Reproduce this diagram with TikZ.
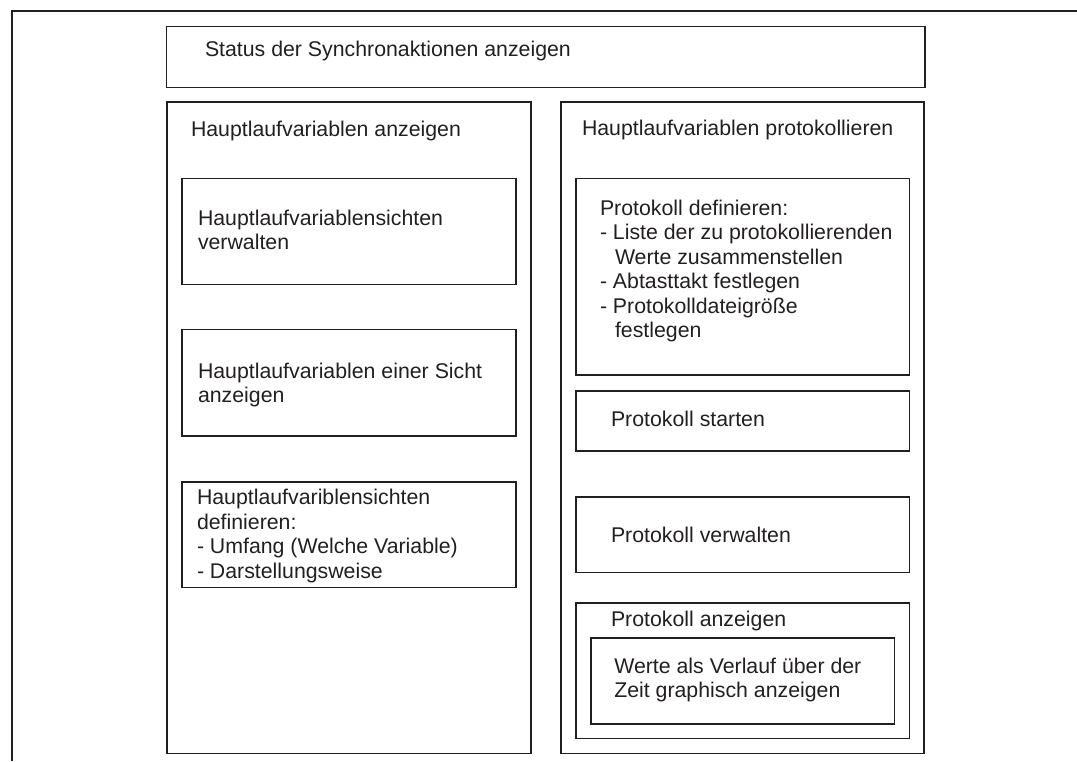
\documentclass[tikz,border=0pt]{standalone}
\usepackage{fontspec}
\setmainfont{Liberation Sans}
\definecolor{ink}{HTML}{231F20}
\begin{document}
\begin{tikzpicture}[x=1pt,y=-1pt,
  box/.style={draw=ink, line width=1.6pt, anchor=north west, inner sep=0pt, outer sep=0pt},
  txt/.style={anchor=north west, inner sep=0pt, outer sep=0pt, text=ink, align=left,
    font=\fontsize{21.3}{24.5}\selectfont},
]
\useasboundingbox (0,0) rectangle (1077,761);
% outer frame (top and left edges)
\coordinate (fTR) at (1077,10.5);
\coordinate (fTL) at (11.5,10.5);
\coordinate (fBL) at (11.5,761);
\draw[ink, line width=2pt] (fTR) -- (fTL) -- (fBL);

% boxes
\node[box, minimum width=758.5pt, minimum height=61pt] (top) at (166.5,26.5) {};
\node[box, minimum width=364pt, minimum height=651.5pt] (lcol) at (166.7,102) {};
\node[box, minimum width=334pt, minimum height=106pt] (l1) at (181.7,178.3) {};
\node[box, minimum width=334pt, minimum height=106.7pt] (l2) at (181.7,329.3) {};
\node[box, minimum width=334pt, minimum height=105.8pt] (l3) at (181.7,481.7) {};
\node[box, minimum width=363.3pt, minimum height=651.3pt] (rcol) at (560.7,102) {};
\node[box, minimum width=333.3pt, minimum height=196.7pt] (r1) at (576,178.3) {};
\node[box, minimum width=333.3pt, minimum height=60pt] (r2) at (576,390.7) {};
\node[box, minimum width=333.3pt, minimum height=75.6pt] (r3) at (576,496.7) {};
\node[box, minimum width=333.3pt, minimum height=135.6pt] (r4) at (576,602.7) {};
\node[box, minimum width=303.6pt, minimum height=86.3pt] (r4in) at (590.7,637.7) {};

% texts (top = first baseline - 15.3)
\node[txt] (ttop) at (205,41.3) {Status der Synchronaktionen anzeigen};
\node[txt] (tlcol) at (191,121.3) {Hauptlaufvariablen anzeigen};
\node[txt] (tl1) at (198,209.7) {Hauptlaufvariablensichten\\verwalten};
\node[txt] (tl2) at (198,362.7) {Hauptlaufvariablen einer Sicht\\anzeigen};
\node[txt] (tl3) at (197,489.5) {Hauptlaufvariblensichten\\definieren:\\- Umfang (Welche Variable)\\- Darstellungsweise};
\node[txt] (trcol) at (582,119.7) {Hauptlaufvariablen protokollieren};
\node[txt] (tr1) at (600,199.7) {Protokoll definieren:\\- Liste der zu protokollierenden\\\hspace*{15pt}Werte zusammenstellen\\- Abtasttakt festlegen\\- Protokolldateigröße\\\hspace*{15pt}festlegen};
\node[txt] (tr2) at (611,410.7) {Protokoll starten};
\node[txt] (tr3) at (611,527.4) {Protokoll verwalten};
\node[txt] (tr4) at (611,610.7) {Protokoll anzeigen};
\node[txt] (tr4in) at (614.3,658) {Werte als Verlauf über der\\Zeit graphisch anzeigen};
\end{tikzpicture}
\end{document}
